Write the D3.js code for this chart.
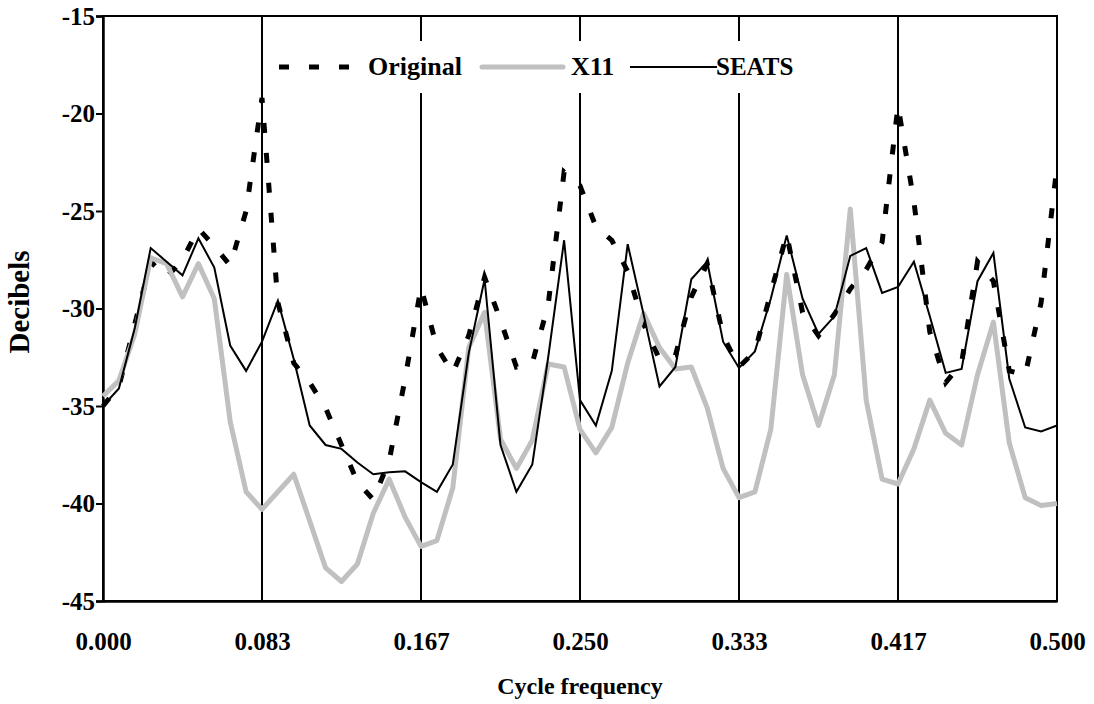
<!DOCTYPE html>
<html>
<head>
<meta charset="utf-8">
<script src="https://cdn.jsdelivr.net/npm/d3@7"></script>
<style>
  html, body { margin: 0; padding: 0; background: #fff; }
  svg { display: block; }
  text { font-family: "Liberation Serif", "Times New Roman", serif; font-weight: bold; fill: #000; }
</style>
</head>
<body>
<div id="chart"></div>
<script>
// Spectra, 61 ordinates at frequencies j/120 (j = 0..60)
const nPoints = 61
const original = [
  -35.0, -34.0, -30.8, -27.6, -28.4, -27.5, -25.9, -26.8, -27.8, -25.0,
  -19.2, -29.7, -32.8, -33.8, -35.1, -37.0, -38.9, -39.8, -37.8, -33.6,
  -28.9, -32.0, -33.3, -31.4, -28.4, -30.6, -33.0, -32.8, -29.8, -23.0,
  -23.7, -25.8, -26.5, -28.1, -30.8, -32.6, -32.4, -29.4, -27.7, -31.4,
  -33.0, -32.2, -29.2, -26.2, -30.2, -31.4, -30.3, -29.0, -28.0, -26.6,
  -19.6, -24.5, -31.2, -33.8, -32.8, -27.6, -28.6, -33.2, -33.4, -29.7,
  -22.7
]
const x11 = [
  -34.5, -33.7, -31.3, -27.4, -27.7, -29.4, -27.7, -29.5, -35.8, -39.4,
  -40.3, -39.4, -38.5, -40.9, -43.3, -44.0, -43.1, -40.5, -38.75, -40.7,
  -42.2, -41.9, -39.2, -32.0, -30.2, -36.7, -38.2, -36.75, -32.85, -33.0,
  -36.2, -37.4, -36.1, -32.8, -30.25, -32.0, -33.1, -33.0, -35.1, -38.2,
  -39.7, -39.4, -36.2, -28.25, -33.4, -36.0, -33.4, -24.9, -34.7, -38.75,
  -39.0, -37.2, -34.7, -36.4, -37.0, -33.4, -30.7, -36.9, -39.7, -40.1,
  -40.0
]
const seats = [
  -35.0, -34.1, -31.0, -26.9, -27.6, -28.3, -26.4, -27.9, -31.9, -33.2,
  -31.7, -29.6, -32.6, -36.0, -37.0, -37.2, -37.9, -38.5, -38.4, -38.35,
  -38.9, -39.4, -38.0, -32.3, -28.5, -37.0, -39.4, -38.0, -32.5, -26.5,
  -34.7, -36.0, -33.2, -26.7, -30.3, -34.0, -33.0, -28.5, -27.6, -31.7,
  -33.05, -32.2, -29.5, -26.25, -29.5, -31.3, -30.4, -27.3, -26.9, -29.2,
  -28.9, -27.6, -30.4, -33.3, -33.1, -28.6, -27.15, -33.6, -36.1, -36.3,
  -36.0
]
const xTicks = [0, 1 / 12, 2 / 12, 3 / 12, 4 / 12, 5 / 12, 6 / 12]
const xTickLabels = ['0.000', '0.083', '0.167', '0.250', '0.333', '0.417', '0.500']
const yTicks = [-45, -40, -35, -30, -25, -20, -15]

const width = 1094
const height = 704
const margin = { top: 16, right: 37, bottom: 103, left: 103 }
const fontFamily = '"Liberation Serif", "Times New Roman", serif'

const svg = d3.select('#chart')
  .append('svg')
  .attr('width', width)
  .attr('height', height)

const x = d3.scaleLinear()
  .domain([0, 0.5])
  .range([margin.left, width - margin.right])

const y = d3.scaleLinear()
  .domain([-45, -15])
  .range([height - margin.bottom, margin.top])

const freq = d3.range(nPoints).map(i => i / 120)

// Vertical reference lines at multiples of 1/12
svg.append('g')
  .selectAll('line')
  .data(xTicks.slice(1, -1))
  .join('line')
  .attr('x1', d => x(d))
  .attr('x2', d => x(d))
  .attr('y1', y(-45))
  .attr('y2', y(-15))
  .attr('stroke', '#000')
  .attr('stroke-width', 2)

// Frame
svg.append('rect')
  .attr('x', x(0))
  .attr('y', y(-15))
  .attr('width', x(0.5) - x(0))
  .attr('height', y(-45) - y(-15))
  .attr('fill', 'none')
  .attr('stroke', '#000')
  .attr('stroke-width', 2)

// Y axis
const yAxis = svg.append('g')
  .attr('transform', `translate(${x(0)},0)`)
  .call(d3.axisLeft(y).tickValues(yTicks).tickSize(7).tickPadding(1))
yAxis.select('.domain').attr('stroke-width', 2.5)
yAxis.selectAll('.tick line').attr('stroke-width', 2)
yAxis.selectAll('text')
  .style('font-size', '25px')
  .style('font-family', fontFamily)
  .style('font-weight', 'bold')
  .text(d => '-' + Math.abs(d))

// X axis (labels only, lines come from the frame)
const xAxis = svg.append('g')
  .attr('transform', `translate(0,${y(-45)})`)
  .call(d3.axisBottom(x).tickValues(xTicks).tickSize(0).tickPadding(31)
    .tickFormat((d, i) => xTickLabels[i]))
xAxis.select('.domain').attr('stroke-width', 2.5)
xAxis.selectAll('text')
  .style('font-size', '25px')
  .style('font-family', fontFamily)
  .style('font-weight', 'bold')

// Series
const line = values => d3.line()
  .x((d, i) => x(freq[i]))
  .y(d => y(d))(values)

svg.append('path')
  .attr('d', line(original))
  .attr('fill', 'none')
  .attr('stroke', '#000')
  .attr('stroke-width', 5)
  .attr('stroke-dasharray', '10,20')

svg.append('path')
  .attr('d', line(x11))
  .attr('fill', 'none')
  .attr('stroke', '#c0c0c0')
  .attr('stroke-width', 5)
  .attr('stroke-linejoin', 'round')

svg.append('path')
  .attr('d', line(seats))
  .attr('fill', 'none')
  .attr('stroke', '#000')
  .attr('stroke-width', 2)

// Legend
const legend = svg.append('g')
legend.append('rect')
  .attr('x', 266).attr('y', 41)
  .attr('width', 540).attr('height', 52)
  .attr('fill', '#fff')

const ly = 67
legend.append('line')
  .attr('x1', 279).attr('x2', 349).attr('y1', ly).attr('y2', ly)
  .attr('stroke', '#000').attr('stroke-width', 5).attr('stroke-dasharray', '10,20')
legend.append('text').attr('x', 368).attr('y', ly + 8).style('font-size', '26px').text('Original')

legend.append('line')
  .attr('x1', 482).attr('x2', 563).attr('y1', ly).attr('y2', ly)
  .attr('stroke', '#c0c0c0').attr('stroke-width', 5).attr('stroke-linecap', 'round')
legend.append('text').attr('x', 571).attr('y', ly + 8).style('font-size', '26px').text('X11')

legend.append('line')
  .attr('x1', 630).attr('x2', 717).attr('y1', ly).attr('y2', ly)
  .attr('stroke', '#000').attr('stroke-width', 2)
legend.append('text').attr('x', 716).attr('y', ly + 8).style('font-size', '25px').text('SEATS')

// Axis titles
svg.append('text')
  .attr('x', (x(0) + x(0.5)) / 2)
  .attr('y', 694)
  .attr('text-anchor', 'middle')
  .style('font-size', '24px')
  .text('Cycle frequency')

svg.append('text')
  .attr('transform', `translate(29,302) rotate(-90)`)
  .attr('text-anchor', 'middle')
  .style('font-size', '29px')
  .text('Decibels')
</script>
</body>
</html>
